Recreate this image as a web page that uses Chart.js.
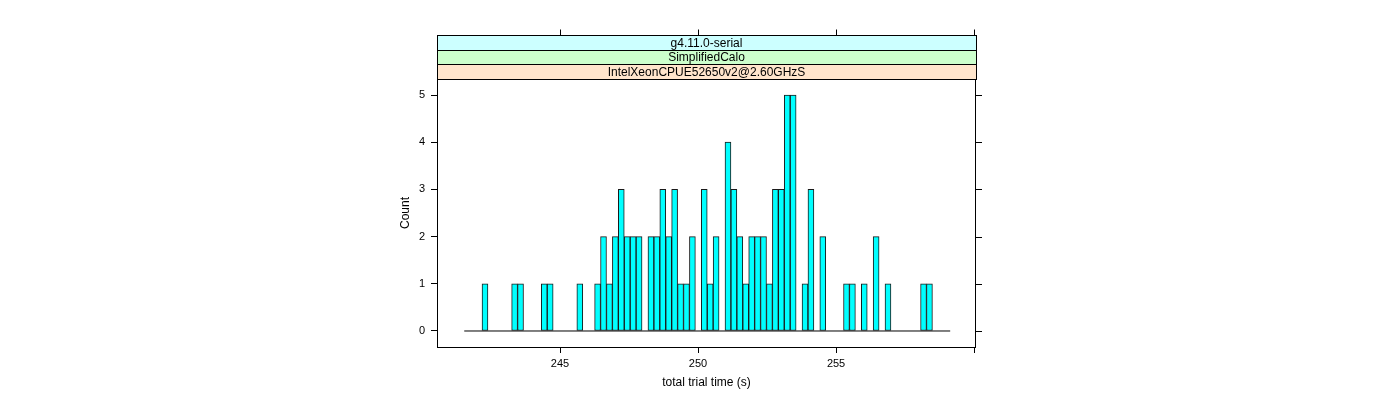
<!DOCTYPE html>
<html>
<head>
<meta charset="utf-8">
<script src="https://cdn.jsdelivr.net/npm/chart.js@4.4.0/dist/chart.umd.min.js"></script>
<style>
  html, body { margin: 0; padding: 0; background: #fff; }
  #wrap { width: 1400px; height: 400px; }
</style>
</head>
<body>
<div id="wrap"><canvas id="chart" width="1400" height="400"></canvas></div>
<script>
// histogram counts, one per bin
var counts = [
    0, 0, 0, 1, 0, 0, 0, 0, 1, 1,
    0, 0, 0, 1, 1, 0, 0, 0, 0, 1,
    0, 0, 1, 2, 1, 2, 3, 2, 2, 2,
    0, 2, 2, 3, 2, 3, 1, 1, 2, 0,
    3, 1, 2, 0, 4, 3, 2, 1, 2, 2,
    2, 1, 3, 3, 5, 5, 0, 1, 3, 0,
    2, 0, 0, 0, 1, 1, 0, 1, 0, 2,
    0, 1, 0, 0, 0, 0, 0, 1, 1, 0,
    0, 0
];
var breakStart = 241.53;
var binWidth = 0.2147;
var xTicks = [245, 250, 255, 260];
var yTicks = [0, 1, 2, 3, 4, 5];
// strips, from the one next to the panel upwards
var stripLabels = ["IntelXeonCPUE52650v2@2.60GHzS", "SimplifiedCalo", "g4.11.0-serial"];
var stripColors = ["#ffe5cc", "#ccffcc", "#ccffff"];

var bars = counts.map(function (c, i) {
    return { x: breakStart + (i + 0.5) * binWidth, y: c };
});
var breakEnd = breakStart + counts.length * binWidth;

/* lattice-like strips, top and right ticks, panel box */
var latticePlugin = {
    id: 'lattice',
    afterDraw: function (chart) {
        var ctx = chart.ctx;
        var a = chart.chartArea;
        var xs = chart.scales.x, ys = chart.scales.y;
        var h = 44 / 3;
        ctx.save();
        ctx.lineWidth = 1;
        ctx.strokeStyle = '#000';
        ctx.font = '12px "Liberation Sans", Arial, sans-serif';
        ctx.textAlign = 'center';
        ctx.textBaseline = 'middle';
        for (var i = 0; i < stripLabels.length; i++) {
            var y0 = Math.round(a.top - (i + 1) * h) + 0.5;
            var y1 = Math.round(a.top - i * h) + 0.5;
            ctx.fillStyle = stripColors[i];
            ctx.fillRect(a.left + 0.5, y0, a.right - a.left, y1 - y0);
            ctx.strokeRect(a.left + 0.5, y0, a.right - a.left, y1 - y0);
            ctx.fillStyle = '#000';
            ctx.fillText(stripLabels[i], (a.left + a.right) / 2, (y0 + y1) / 2 + 0.5);
        }
        var topY = Math.round(a.top - stripLabels.length * h) + 0.5;
        ctx.beginPath();
        xTicks.forEach(function (v) {
            var px = Math.round(xs.getPixelForValue(v)) + 0.5;
            ctx.moveTo(px, topY);
            ctx.lineTo(px, topY - 6);
        });
        yTicks.forEach(function (v) {
            var py = Math.round(ys.getPixelForValue(v)) + 0.5;
            ctx.moveTo(a.right, py);
            ctx.lineTo(a.right + 6, py);
        });
        ctx.stroke();
        ctx.strokeRect(a.left + 0.5, a.top + 0.5, a.right - a.left - 1, a.bottom - a.top);
        ctx.restore();
    }
};

var ctx = document.getElementById('chart').getContext('2d');
var chart = new Chart(ctx, {
    type: 'bar',
    data: {
        datasets: [{
            type: 'line',
            data: [{ x: breakStart, y: 0 }, { x: breakEnd, y: 0 }],
            borderColor: '#000',
            borderWidth: 1,
            pointRadius: 0,
            order: 2
        }, {
            label: 'Count',
            data: bars,
            backgroundColor: '#00ffff',
            borderColor: '#1a1a1a',
            borderWidth: 1,
            borderSkipped: false,
            barPercentage: 1,
            categoryPercentage: 1,
            order: 1
        }]
    },
    options: {
        responsive: false,
        animation: false,
        layout: { padding: { left: 390, right: 424, top: 79, bottom: 0 } },
        plugins: { legend: { display: false }, tooltip: { enabled: false } },
        scales: {
            x: {
                type: 'linear',
                offset: false,
                min: 240.543,
                max: 260.07,
                afterBuildTicks: function (s) { s.ticks = xTicks.map(function (v) { return { value: v }; }); },
                afterFit: function (s) { s.height = 53; },
                grid: { offset: false, drawOnChartArea: false, tickLength: 6, color: '#000' },
                border: { display: false },
                ticks: {
                    padding: 4,
                    maxRotation: 0,
                    color: '#000',
                    font: { family: '"Liberation Sans", Arial, sans-serif', size: 11 },
                    callback: function (v) { return v === 260 ? '' : v; }
                },
                title: {
                    display: true,
                    text: 'total trial time (s)',
                    color: '#000',
                    font: { family: '"Liberation Sans", Arial, sans-serif', size: 12 },
                    padding: { top: 0, bottom: 10 }
                }
            },
            y: {
                min: -0.339,
                max: 5.339,
                afterBuildTicks: function (s) { s.ticks = yTicks.map(function (v) { return { value: v }; }); },
                afterFit: function (s) { s.width = 47; },
                grid: { drawOnChartArea: false, tickLength: 6, color: '#000' },
                border: { display: false },
                ticks: {
                    padding: 6,
                    color: '#000',
                    font: { family: '"Liberation Sans", Arial, sans-serif', size: 11 }
                },
                title: {
                    display: true,
                    text: 'Count',
                    color: '#000',
                    font: { family: '"Liberation Sans", Arial, sans-serif', size: 12 },
                    padding: { top: 8, bottom: 0 }
                }
            }
        }
    },
    plugins: [latticePlugin]
});
</script>
</body>
</html>
